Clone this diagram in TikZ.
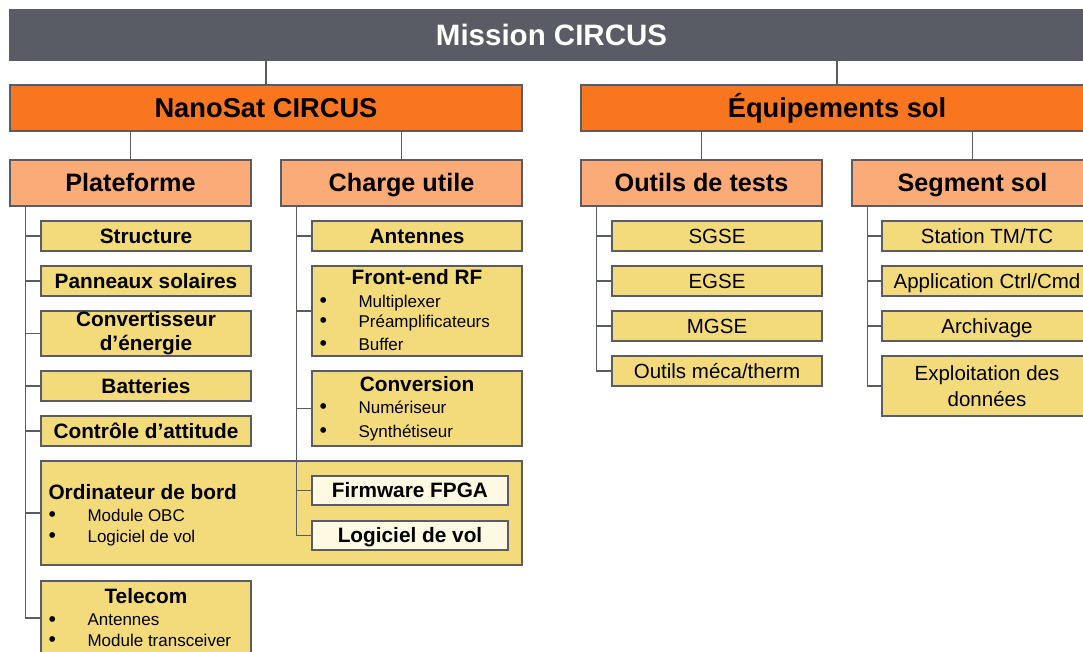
\documentclass[tikz,border=0pt]{standalone}
\usepackage{fontspec}
\setmainfont{Liberation Sans}
\usetikzlibrary{calc,positioning}
\definecolor{slate}{RGB}{89,91,101}
\definecolor{orangeA}{RGB}{247,118,31}
\definecolor{orangeB}{RGB}{251,171,120}
\definecolor{gold}{RGB}{243,219,124}
\definecolor{cream}{RGB}{254,249,226}
\tikzset{box/.style={draw=slate,line width=1.3pt,inner sep=0pt,align=center},
  mainbox/.style={box,fill=slate,text=white,font=\fontsize{29.5}{31}\selectfont\bfseries,text height=21.1pt,text depth=0pt,minimum width=1083pt,minimum height=50pt},
  lvlone/.style={box,fill=orangeA,font=\fontsize{27.3}{29}\selectfont\bfseries,text height=19.5pt,text depth=0pt,minimum width=512pt,minimum height=46pt},
  lvltwo/.style={box,fill=orangeB,font=\fontsize{25.2}{27}\selectfont\bfseries,text height=18pt,text depth=0pt,minimum width=241pt,minimum height=46pt},
  leafbase/.style={box,fill=gold,font=\fontsize{20.5}{26}\selectfont,minimum width=210pt,minimum height=30pt},
  leaf/.style={leafbase,text height=14.8pt,text depth=0pt},
  bleaf/.style={leaf,font=\fontsize{20.8}{24}\selectfont\bfseries},
  bleaftwo/.style={leafbase,font=\fontsize{20.8}{24}\selectfont\bfseries},
  subbox/.style={bleaf,fill=cream,minimum width=196pt,minimum height=29pt},
  head/.style={inner sep=0pt,text height=14.8pt,text depth=0pt,font=\fontsize{20.8}{24}\selectfont\bfseries},
  itemtxt/.style={inner sep=0pt,anchor=west,text height=12.2pt,text depth=0pt,font=\fontsize{17}{18}\selectfont},
  link/.style={draw=slate,line width=1.3pt}}
\newcommand{\bul}[1]{\makebox[39pt][l]{\raisebox{-0.6pt}{\scalebox{1.25}{\textbullet}}}#1}

\begin{document}
\begin{tikzpicture}[x=1pt,y=-1pt]
\useasboundingbox (0,0) rectangle (1083,652);
\clip (0,0) rectangle (1083,652);
% levels 0 to 2
\node[mainbox] (mission) at (551.5,35) {Mission CIRCUS};
\node[lvlone] (nano) at (266,108) {NanoSat CIRCUS};
\node[lvlone] (equip) at (837,108) {Équipements sol};
\node[lvltwo] (plat) at (130.5,183) {Plateforme};
\node[lvltwo] (charge) at (401.5,183) {Charge utile};
\node[lvltwo] (tests) at (701.5,183) {Outils de tests};
\node[lvltwo] (seg) at (972.5,183) {Segment sol};

% plateforme
\node[bleaf] (struct) at (146,236) {Structure};
\node[bleaf] (panneaux) at (146,281) {Panneaux solaires};
\node[bleaftwo,minimum height=45pt] (conv) at (146,333.5) {Convertisseur\\d’énergie};
\node[bleaf] (batt) at (146,386) {Batteries};
\node[bleaf] (attitude) at (146,431) {Contrôle d’attitude};
\node[leaf,minimum width=481pt,minimum height=104pt] (obc) at (281.5,513) {};
\node[head,anchor=west] (obct) at ($(obc.west)+(8,-21)$) {Ordinateur de bord};
\node[itemtxt] (obc1) at ($(obc.west)+(8,2)$) {\bul{Module OBC}};
\node[itemtxt] (obc2) at ($(obc.west)+(8,23)$) {\bul{Logiciel de vol}};
\node[leaf,minimum height=74pt] (telecom) at (146,618) {};
\node[head] (telt) at ($(telecom.north)+(0,16)$) {Telecom};
\node[itemtxt] (tel1) at ($(telecom.west)+(8,1.5)$) {\bul{Antennes}};
\node[itemtxt] (tel2) at ($(telecom.west)+(8,22)$) {\bul{Module transceiver}};

% charge utile
\node[bleaf] (antennes) at (417,236) {Antennes};
\node[leaf,minimum height=90pt] (frontend) at (417,311) {};
\node[head] (fet) at ($(frontend.north)+(0,12)$) {Front-end RF};
\node[itemtxt] (fe1) at ($(frontend.west)+(8,-10)$) {\bul{Multiplexer}};
\node[itemtxt] (fe2) at ($(frontend.west)+(8,10)$) {\bul{Préamplificateurs}};
\node[itemtxt] (fe3) at ($(frontend.west)+(8,33)$) {\bul{Buffer}};
\node[leaf,minimum height=75pt] (conversion) at (417,408.5) {};
\node[head] (cvt) at ($(conversion.north)+(0,14)$) {Conversion};
\node[itemtxt] (cv1) at ($(conversion.west)+(8,-1.5)$) {\bul{Numériseur}};
\node[itemtxt] (cv2) at ($(conversion.west)+(8,22.5)$) {\bul{Synthétiseur}};
\node[subbox] (firmware) at (410,490.5) {Firmware FPGA};
\node[subbox] (logiciel) at (410,535.5) {Logiciel de vol};

% outils de tests
\node[leaf] (sgse) at (717,236) {SGSE};
\node[leaf] (egse) at (717,281) {EGSE};
\node[leaf] (mgse) at (717,326) {MGSE};
\node[leaf] (meca) at (717,371) {Outils méca/therm};

% segment sol
\node[leaf] (station) at (987,236) {Station TM/TC};
\node[leaf] (app) at (987,281) {Application Ctrl/Cmd};
\node[leaf] (arch) at (987,326) {Archivage};
\node[leafbase,minimum height=60pt] (expl) at (987,386) {Exploitation des\\données};

% tree links
\draw[link] (nano.north) -- (nano.north |- mission.south);
\draw[link] (equip.north) -- (equip.north |- mission.south);
\draw[link] (plat.north) -- (plat.north |- nano.south);
\draw[link] (charge.north) -- (charge.north |- nano.south);
\draw[link] (tests.north) -- (tests.north |- equip.south);
\draw[link] (seg.north) -- (seg.north |- equip.south);

\coordinate (pspine) at ($(plat.south west)+(16,0)$);
\coordinate (cspine) at ($(charge.south west)+(16,0)$);
\coordinate (tspine) at ($(tests.south west)+(16,0)$);
\coordinate (sspine) at ($(seg.south west)+(16,0)$);
\foreach \n in {struct,panneaux,conv,batt,attitude,obc,telecom}
  \draw[link] (pspine) |- (\n.west);
\foreach \n in {antennes,frontend,conversion,firmware,logiciel}
  \draw[link] (cspine) |- (\n.west);
\foreach \n in {sgse,egse,mgse,meca}
  \draw[link] (tspine) |- (\n.west);
\foreach \n in {station,app,arch,expl}
  \draw[link] (sspine) |- (\n.west);
\end{tikzpicture}
\end{document}
